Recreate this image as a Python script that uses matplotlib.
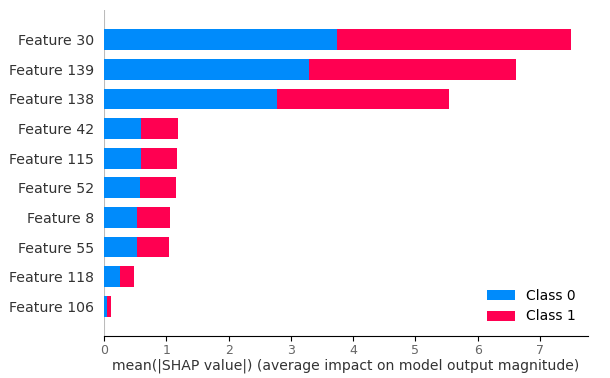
import numpy as np
import matplotlib
matplotlib.use("Agg")
import matplotlib.pyplot as plt

# features ordered from most to least important
features = ["Feature 30", "Feature 139", "Feature 138", "Feature 42", "Feature 115",
            "Feature 52", "Feature 8", "Feature 55", "Feature 118", "Feature 106"]
class_0 = [3.74, 3.29, 2.77, 0.59, 0.59, 0.57, 0.535, 0.535, 0.25, 0.05]
class_1 = [3.76, 3.32, 2.77, 0.60, 0.58, 0.58, 0.525, 0.505, 0.23, 0.06]
class_names = ["Class 0", "Class 1"]
colors = ["#008bfb", "#ff0051"]

fig = plt.figure(figsize=(6.1, 3.78), dpi=100)
ax = fig.add_axes([104 / 610, (378 - 336) / 378, (588 - 104) / 610, (336 - 10) / 378])

n = len(features)
y_pos = np.arange(n)[::-1]
left = np.zeros(n)
for vals, name, c in zip([class_0, class_1], class_names, colors):
    ax.barh(y_pos, vals, 0.7, left=left, color=c, label=name)
    left = left + np.array(vals)

ax.set_yticks(y_pos)
ax.set_yticklabels(features, fontsize=10.2, color="#333333")
ax.set_ylim(-1, n)
ax.set_xlim(0, 7.77)
ax.axvline(0, color="#bbbbbb", zorder=-1, lw=1.5)

ax.spines["right"].set_visible(False)
ax.spines["top"].set_visible(False)
ax.spines["left"].set_visible(False)
ax.yaxis.set_ticks_position("none")
ax.xaxis.set_ticks_position("bottom")
ax.tick_params("x", labelsize=9, labelcolor="#666666", pad=2)
ax.set_xlabel("mean(|SHAP value|) (average impact on model output magnitude)",
              fontsize=10.1, color="#333333", labelpad=1)

ax.legend(frameon=False, loc="lower right", fontsize=10)

fig.savefig("out.png", dpi=100)
